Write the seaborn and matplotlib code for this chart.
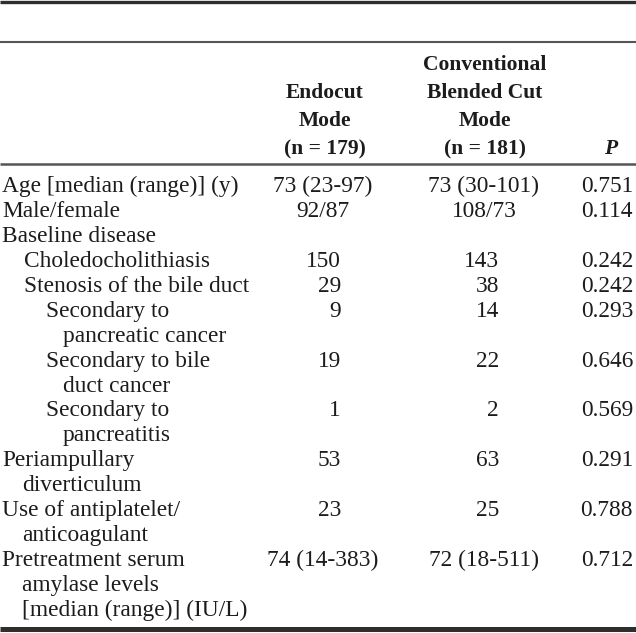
import matplotlib
matplotlib.use("Agg")
import matplotlib.pyplot as plt
import seaborn as sns

# table content
row_labels = [
    ["Age [median (range)] (y)"],
    ["Male/female"],
    ["Baseline disease"],
    ["Choledocholithiasis"],
    ["Stenosis of the bile duct"],
    ["Secondary to", "pancreatic cancer"],
    ["Secondary to bile", "duct cancer"],
    ["Secondary to", "pancreatitis"],
    ["Periampullary", "diverticulum"],
    ["Use of antiplatelet/", "anticoagulant"],
    ["Pretreatment serum", "amylase levels", "[median (range)] (IU/L)"],
]
row_levels = [0, 0, 0, 1, 1, 2, 2, 2, 0, 0, 0]
endocut = ["73 (23-97)", "92/87", "", "150", "29", "9", "19", "1", "53", "23", "74 (14-383)"]
conventional = ["73 (30-101)", "108/73", "", "143", "38", "14", "22", "2", "63", "25", "72 (18-511)"]
p_values = ["0.751", "0.114", "", "0.242", "0.242", "0.293", "0.646", "0.569", "0.291", "0.788", "0.712"]

header_endocut = ["Endocut", "Mode", "(n = 179)"]
header_conv = ["Conventional", "Blended Cut", "Mode", "(n = 181)"]
header_p = "P"

sns.set_theme(style="white")
plt.rcParams["font.family"] = ["Liberation Serif", "DejaVu Serif"]

W, H = 636, 633
fig = plt.figure(figsize=(W / 100, H / 100), dpi=100)
ax = fig.add_axes([0, 0, 1, 1])
ax.set_xlim(0, W)
ax.set_ylim(H, 0)
ax.axis("off")

fs = 16.8
fs_head = 15.5
txt = "#1c1c1c"

# rules
ax.hlines(1.5, 0, W, color="#2e2e2e", lw=2.4)
ax.hlines(42, 0, W, color="#555555", lw=1.5)
ax.hlines(164, 0, W, color="#555555", lw=1.8)
ax.hlines(629, 0, W, color="#2e2e2e", lw=3.6)

# header
head_step = 28
head_last = 154
col1_c, col2_c = 325, 485
for i, s in enumerate(reversed(header_endocut)):
    ax.text(col1_c, head_last - i * head_step, s, ha="center", va="baseline",
            fontsize=fs_head, fontweight="bold", color=txt)
for i, s in enumerate(reversed(header_conv)):
    ax.text(col2_c, head_last - i * head_step, s, ha="center", va="baseline",
            fontsize=fs_head, fontweight="bold", color=txt)
ax.text(617, head_last, header_p, ha="right", va="baseline", fontsize=fs_head,
        fontweight="bold", fontstyle="italic", color=txt)

# body
step = 24.94
base0 = 192
first_x = {0: 2, 1: 24, 2: 46}
cont_x = {0: 22, 1: 46, 2: 63}
line = 0
for lines, lvl, a, b, p in zip(row_labels, row_levels, endocut, conventional, p_values):
    y = base0 + line * step
    for j, s in enumerate(lines):
        x = first_x[lvl] if j == 0 else cont_x[lvl]
        ax.text(x, y + j * step, s, ha="left", va="baseline", fontsize=fs, color=txt)
    if a:
        if a.isdigit():
            ax.text(341, y, a, ha="right", va="baseline", fontsize=fs, color=txt)
        else:
            ax.text(323, y, a, ha="center", va="baseline", fontsize=fs, color=txt)
    if b:
        if b.isdigit():
            ax.text(499, y, b, ha="right", va="baseline", fontsize=fs, color=txt)
        else:
            ax.text(484, y, b, ha="center", va="baseline", fontsize=fs, color=txt)
    if p:
        ax.text(633, y, p, ha="right", va="baseline", fontsize=fs, color=txt)
    line += len(lines)

fig.savefig("out.png", dpi=100)
